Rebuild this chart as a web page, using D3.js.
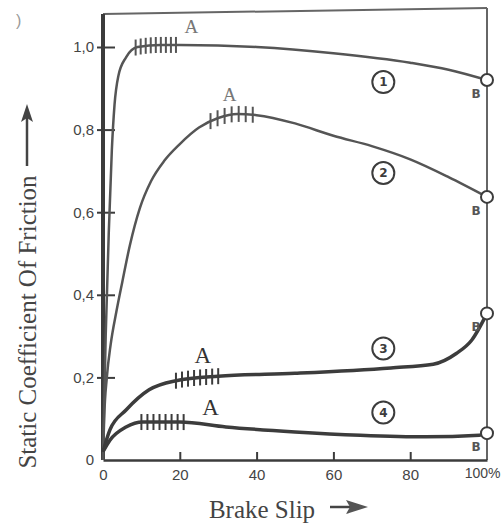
<!DOCTYPE html>
<html lang="en">
  <head>
    <title>Brake slip friction</title>
    <meta charset="utf-8" />
    <script src="https://d3js.org/d3.v7.min.js"></script>
    <style>
      body { margin: 0; background: #ffffff; }
    </style>
  </head>
  <body>
    <svg width="502" height="529" xmlns="http://www.w3.org/2000/svg" id="target"></svg>
    <script>
        // values (slip in %, friction coefficient)
        const curve1 = [[0,0],[0.7,0.3],[1.5,0.55],[2.3,0.75],[3,0.86],[4,0.93],[6,0.975],[9,1.0],[15,1.005],[20,1.005],[40,1.0],[60,0.985],[80,0.962],[90,0.945],[100,0.92]];
        const curve2 = [[0,0],[0.3,0.1],[1,0.2],[2,0.28],[3.5,0.36],[5,0.43],[7,0.52],[9.6,0.61],[12.5,0.675],[16,0.725],[20,0.765],[25,0.805],[30,0.828],[35,0.838],[40,0.835],[50,0.815],[60,0.785],[70,0.76],[80,0.728],[90,0.685],[100,0.637]];
        const curve3 = [[0,0.02],[1.8,0.073],[6,0.121],[12,0.17],[19,0.192],[30,0.203],[50,0.21],[75,0.223],[86,0.232],[92,0.258],[96,0.29],[100,0.355]];
        const curve4 = [[0,0.02],[1.8,0.048],[6,0.08],[10.4,0.092],[20,0.092],[32,0.08],[50,0.068],[67,0.06],[84,0.056],[98,0.06],[100,0.065]];
        const curves = [curve1, curve2, curve3, curve4];
        const curveNames = ["1", "2", "3", "4"];
        const hatchFrom = [8.5, 28, 19, 10];
        const hatchTo = [19, 39, 30, 21];
        const hatchCount = [9, 7, 8, 8];
        const labelSlip = [73, 73, 73, 73];
        const labelValue = [0.915, 0.695, 0.27, 0.115];
        const aSlip = [23, 33, 26, 28];
        const aValue = [1.035, 0.87, 0.235, 0.11];
        const xTicks = [0, 20, 40, 60, 80, 100];
        const xTickLabels = ["0", "20", "40", "60", "80", "100%"];
        const yTicks = [0, 0.2, 0.4, 0.6, 0.8, 1.0];
        const yTickLabels = ["0", "0,2", "0,4", "0,6", "0,8", "1,0"];

        const ink = "#3c3c3c";
        const inkLight = "#666666";

        const svg = d3.select("#target");
        const x = d3.scaleLinear().domain([0, 100]).range([103, 487]);
        const y = d3.scaleLinear().domain([0, 1]).range([460, 47]);

        // frame
        svg.append("line").attr("x1", x(0)).attr("y1", 14).attr("x2", x(100)).attr("y2", 8)
          .attr("stroke", inkLight).attr("stroke-width", 2);
        svg.append("line").attr("x1", x(100)).attr("y1", 8).attr("x2", x(100)).attr("y2", y(0))
          .attr("stroke", inkLight).attr("stroke-width", 2);

        // axes
        const xAxis = svg.append("g").attr("transform", "translate(0," + y(0) + ")")
          .call(d3.axisBottom(x).tickValues(xTicks).tickSize(0).tickFormat((d, i) => xTickLabels[i]));
        xAxis.select(".domain").attr("stroke", ink).attr("stroke-width", 2.5);
        xAxis.selectAll("text")
          .attr("dy", "1.1em")
          .attr("font-family", "Liberation Sans, sans-serif")
          .attr("font-size", 15)
          .attr("fill", "#444");
        xAxis.selectAll(".tick").filter(d => d === 100).select("text")
          .attr("text-anchor", "end").attr("x", 500 - x(100)).attr("font-size", 14);
        xAxis.selectAll(".tick").filter(d => d > 0 && d < 100)
          .append("line").attr("y1", 0).attr("y2", -8).attr("stroke", ink).attr("stroke-width", 2);

        const yAxis = svg.append("g").attr("transform", "translate(" + x(0) + ",0)")
          .call(d3.axisLeft(y).tickValues(yTicks).tickSize(0).tickFormat((d, i) => yTickLabels[i]));
        yAxis.select(".domain").attr("stroke", ink).attr("stroke-width", 4)
          .attr("d", "M0," + y(0) + "V14");
        yAxis.selectAll("text")
          .attr("x", -9)
          .attr("font-family", "Liberation Sans, sans-serif")
          .attr("font-size", 15)
          .attr("fill", "#444");
        yAxis.selectAll(".tick").filter(d => d > 0)
          .append("line").attr("x1", -6).attr("x2", 12).attr("stroke", ink).attr("stroke-width", 2);

        // curves
        const line = d3.line().x(d => x(d[0])).y(d => y(d[1])).curve(d3.curveMonotoneX);
        const paths = svg.selectAll("path.curve")
          .data(curves)
          .enter()
          .append("path")
          .attr("class", "curve")
          .attr("d", line)
          .attr("fill", "none")
          .attr("stroke", (d, i) => i < 2 ? "#555" : ink)
          .attr("stroke-width", (d, i) => i < 2 ? 2.5 : 3.5);

        // y of a drawn path at a given pixel x
        function yAtX(node, px){
          let lo = 0, hi = node.getTotalLength();
          for (let k = 0; k < 40; k++){
            const mid = (lo + hi) / 2;
            if (node.getPointAtLength(mid).x < px) lo = mid; else hi = mid;
          }
          return node.getPointAtLength(lo).y;
        }

        // hatch marks at point A
        paths.each(function(d, i){
          const node = this;
          const n = hatchCount[i];
          const pts = d3.range(n).map(k => x(hatchFrom[i] + (hatchTo[i] - hatchFrom[i]) * k / (n - 1)));
          svg.selectAll("line.hatch" + i)
            .data(pts)
            .enter()
            .append("line")
            .attr("class", "hatch" + i)
            .attr("x1", px => px).attr("x2", px => px)
            .attr("y1", px => yAtX(node, px) - 8)
            .attr("y2", px => yAtX(node, px) + 8)
            .attr("stroke", i < 2 ? "#555" : ink)
            .attr("stroke-width", 2);
        });

        // end points B
        svg.selectAll("circle.end")
          .data(curves)
          .enter()
          .append("circle")
          .attr("class", "end")
          .attr("cx", d => x(d[d.length - 1][0]))
          .attr("cy", d => y(d[d.length - 1][1]))
          .attr("r", 6)
          .attr("fill", "#fff")
          .attr("stroke", ink)
          .attr("stroke-width", 2);
        svg.selectAll("text.blab")
          .data(curves)
          .enter()
          .append("text")
          .attr("class", "blab")
          .attr("x", d => x(d[d.length - 1][0]) - 11)
          .attr("y", d => y(d[d.length - 1][1]) + 18)
          .attr("text-anchor", "middle")
          .attr("font-family", "DejaVu Sans, sans-serif")
          .attr("font-weight", "bold")
          .attr("font-size", 12)
          .attr("fill", "#555")
          .text("B");

        // A labels
        svg.selectAll("text.alab")
          .data(curves)
          .enter()
          .append("text")
          .attr("class", "alab")
          .attr("x", (d, i) => x(aSlip[i]))
          .attr("y", (d, i) => y(aValue[i]))
          .attr("text-anchor", "middle")
          .attr("font-family", "Liberation Serif, serif")
          .attr("font-size", (d, i) => i < 2 ? 19 : 23)
          .attr("fill", (d, i) => i < 2 ? "#777" : "#333")
          .text("A");

        // circled curve numbers
        const nums = svg.selectAll("g.num")
          .data(curveNames)
          .enter()
          .append("g")
          .attr("class", "num")
          .attr("transform", (d, i) => "translate(" + x(labelSlip[i]) + "," + y(labelValue[i]) + ")");
        nums.append("circle").attr("r", 11).attr("fill", "#fff").attr("stroke", ink).attr("stroke-width", 2);
        nums.append("text")
          .attr("text-anchor", "middle")
          .attr("dy", "0.36em")
          .attr("font-family", "DejaVu Sans, sans-serif")
          .attr("font-weight", "bold")
          .attr("font-size", 12)
          .attr("fill", ink)
          .text(d => d);

        // axis titles
        svg.append("text")
          .attr("transform", "translate(36,322) rotate(-90)")
          .attr("text-anchor", "middle")
          .attr("font-family", "Liberation Serif, serif")
          .attr("font-size", 25)
          .attr("fill", "#444")
          .text("Static Coefficient Of Friction");
        svg.append("line").attr("x1", 27).attr("y1", 166).attr("x2", 27).attr("y2", 116)
          .attr("stroke", "#444").attr("stroke-width", 2.5);
        svg.append("path").attr("d", "M27,104 L21,122 L27,118 L33,122 Z").attr("fill", "#444");

        svg.append("text")
          .attr("x", 262).attr("y", 518)
          .attr("text-anchor", "middle")
          .attr("font-family", "Liberation Serif, serif")
          .attr("font-size", 25)
          .attr("fill", "#444")
          .text("Brake Slip");
        svg.append("line").attr("x1", 330).attr("y1", 507).attr("x2", 352).attr("y2", 507)
          .attr("stroke", "#444").attr("stroke-width", 2.5);
        svg.append("path").attr("d", "M368,507 L346,500 L350,507 L346,514 Z").attr("fill", "#555");

        // scan specks
        svg.append("text").attr("x", 16).attr("y", 26).attr("font-size", 16)
          .attr("font-family", "Liberation Sans, sans-serif").attr("fill", "#999").text(")");
    </script>
  </body>
</html>
